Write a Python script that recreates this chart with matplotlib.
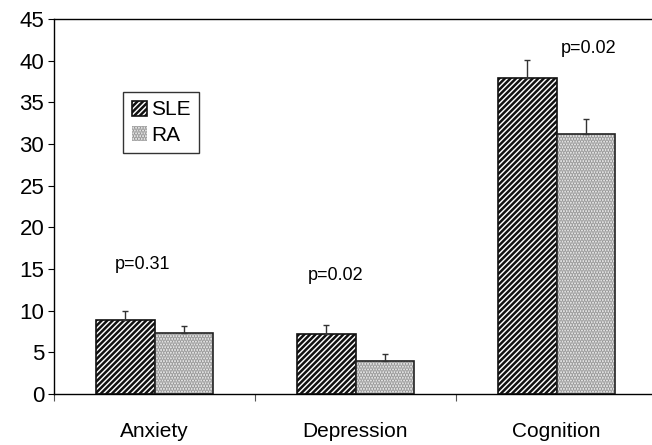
import numpy as np
import matplotlib
matplotlib.use('Agg')
import matplotlib.pyplot as plt

plt.rcParams['font.family'] = ['Liberation Sans', 'DejaVu Sans']
plt.rcParams['hatch.linewidth'] = 1.8

categories = ['Anxiety', 'Depression', 'Cognition']
sle_means = [8.9, 7.2, 37.9]
sle_err = [1.1, 1.1, 2.2]
ra_means = [7.3, 4.0, 31.2]
ra_err = [0.9, 0.8, 1.8]
p_labels = ['p=0.31', 'p=0.02', 'p=0.02']
p_pos = [(-0.06, 15.5), (-0.1, 14.2), (0.16, 41.5)]   # (x offset, y) per group
y_ticks = [0, 5, 10, 15, 20, 25, 30, 35, 40, 45]

x = np.arange(len(categories))
w = 0.29

fig = plt.figure(figsize=(6.52, 4.45), dpi=100)
ax = fig.add_axes([54 / 652, 51 / 445, 603 / 652, 375 / 445])

ax.bar(x - w / 2, sle_means, w, color='white', edgecolor='#111111', hatch='//////',
       linewidth=1.2, label='SLE', zorder=2)
# stipple fill drawn in grey, then the outline on top
ax.bar(x + w / 2, ra_means, w, color='#f4f4f4', edgecolor='#959595', hatch='......',
       linewidth=0, label='RA', zorder=2)
ax.bar(x + w / 2, ra_means, w, color='none', edgecolor='#222222', linewidth=1.2, zorder=2.5)

# upper-only error bars
ax.errorbar(x - w / 2, sle_means, yerr=[np.zeros(3), sle_err], fmt='none',
            ecolor='#333333', elinewidth=1, capsize=2.5, capthick=1, zorder=3)
ax.errorbar(x + w / 2, ra_means, yerr=[np.zeros(3), ra_err], fmt='none',
            ecolor='#333333', elinewidth=1, capsize=2.5, capthick=1, zorder=3)

for i, (lab, (dx, yy)) in enumerate(zip(p_labels, p_pos)):
    ax.text(i + dx, yy, lab, ha='center', va='center', fontsize=13)

ax.set_xlim(-0.5, 2.5)
ax.set_ylim(0, 45)
ax.set_yticks(y_ticks)
ax.tick_params(axis='y', labelsize=16, length=4, width=0.8, direction='out', pad=3)

ax.set_xticks([-0.5, 0.5, 1.5], minor=False)
ax.set_xticklabels([])
ax.set_xticks(x, minor=True)
ax.set_xticklabels(categories, minor=True)
ax.tick_params(axis='x', which='major', length=5, width=0.8, color='#555555')
ax.tick_params(axis='x', which='minor', length=0, labelsize=15, pad=20)

ax.spines['right'].set_visible(False)
for s in ['left', 'top', 'bottom']:
    ax.spines[s].set_linewidth(1.0)

leg = ax.legend(loc='upper left', bbox_to_anchor=(0.115, 0.805), fontsize=15,
                frameon=True, fancybox=False, edgecolor='black',
                handlelength=0.75, handleheight=0.75, handletextpad=0.2,
                borderpad=0.4, labelspacing=0.3, borderaxespad=0)
leg.get_frame().set_linewidth(1.0)

fig.savefig('out.png', dpi=100)
